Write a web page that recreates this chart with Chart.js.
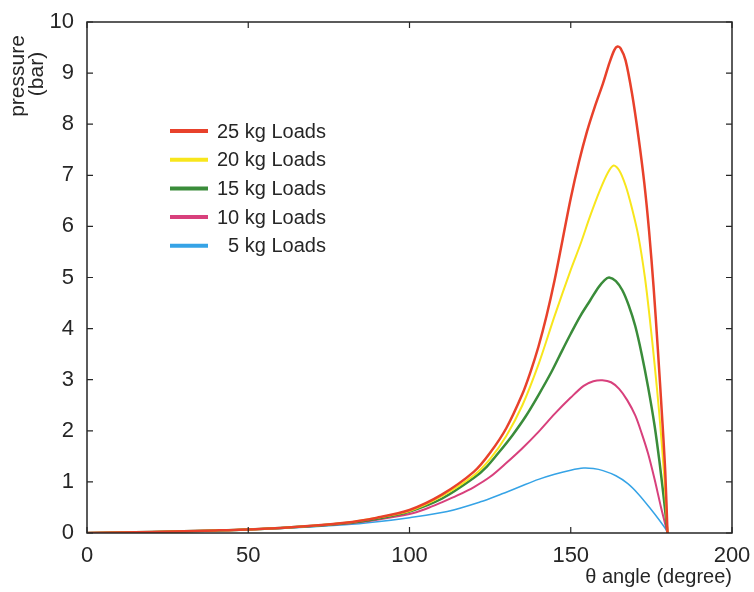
<!DOCTYPE html>
<html lang="en">
<head>
    <meta charset="UTF-8">
    <title>Pressure vs angle</title>
    <script src="https://cdn.jsdelivr.net/npm/chart.js"></script>
    <style>
        body {
            margin: 0;
            background-color: #ffffff;
        }
        #chart {
            display: block;
        }
    </style>
</head>
<body>
    <canvas id="chart" width="754" height="592"></canvas>

    <script>
        // angle (degree) and pressure (bar) for each load
        const angle25 = [0, 20, 40, 60, 80, 90, 100, 110, 120, 125, 130, 135, 137.5, 140, 142.5, 145, 147.5, 150, 152.5, 155, 157.5, 160, 162, 163.5, 164.5, 165.5, 167, 169, 171, 172.8, 174.3, 175.7, 177, 178.3, 179.3, 180];
        const p25 = [0, 0.02, 0.05, 0.1, 0.2, 0.3, 0.45, 0.75, 1.2, 1.57, 2.05, 2.72, 3.15, 3.65, 4.25, 4.95, 5.75, 6.55, 7.25, 7.85, 8.35, 8.8, 9.2, 9.45, 9.52, 9.48, 9.25, 8.6, 7.75, 6.85, 5.9, 4.8, 3.6, 2.3, 1.2, 0];

        const angle20 = [0, 20, 40, 60, 80, 90, 100, 110, 120, 125, 130, 135, 140, 145, 150, 153, 156, 159, 161.5, 163.3, 165, 167, 169, 171, 173, 174.5, 176, 177.5, 179, 180];
        const p20 = [0, 0.02, 0.05, 0.1, 0.2, 0.3, 0.43, 0.72, 1.13, 1.45, 1.9, 2.5, 3.3, 4.25, 5.15, 5.65, 6.2, 6.7, 7.05, 7.19, 7.1, 6.8, 6.35, 5.8, 5.0, 4.2, 3.3, 2.3, 1.1, 0];

        const angle15 = [0, 20, 40, 60, 80, 90, 100, 110, 120, 124, 128, 132, 136, 140, 144, 147.4, 150, 153, 156, 158.5, 160.5, 161.9, 164, 166, 168, 170, 172, 174, 176, 177.5, 179, 180];
        const p15 = [0, 0.02, 0.05, 0.1, 0.19, 0.28, 0.42, 0.67, 1.08, 1.3, 1.6, 1.92, 2.28, 2.7, 3.15, 3.58, 3.9, 4.25, 4.55, 4.8, 4.95, 5.0, 4.93, 4.75, 4.45, 4.05, 3.5, 2.85, 2.1, 1.4, 0.6, 0];

        const angle10 = [0, 20, 40, 60, 80, 90, 100, 105, 110, 115, 120, 125, 130, 135, 140, 145, 150, 154, 157, 159.8, 162.5, 165, 167.5, 170, 172, 174, 176, 178, 180];
        const p10 = [0, 0.02, 0.05, 0.1, 0.18, 0.26, 0.37, 0.47, 0.6, 0.74, 0.9, 1.1, 1.37, 1.66, 1.98, 2.33, 2.65, 2.88, 2.97, 2.99, 2.95, 2.82, 2.6, 2.3, 1.95, 1.55, 1.05, 0.5, 0];

        const angle5 = [0, 20, 40, 60, 80, 90, 100, 111.7, 122, 128, 134, 140, 145, 150, 154, 157, 160, 164, 167.6, 171, 174.8, 177.5, 179.5, 180];
        const p5 = [0, 0.02, 0.05, 0.09, 0.16, 0.22, 0.3, 0.42, 0.61, 0.75, 0.9, 1.05, 1.15, 1.23, 1.27, 1.26, 1.22, 1.12, 0.97, 0.76, 0.47, 0.25, 0.07, 0];

        const seriesLabels = ['25 kg Loads', '20 kg Loads', '15 kg Loads', '10 kg Loads', '  5 kg Loads'];
        const seriesColors = ['#e8412b', '#f8e61c', '#3a8c3a', '#d8407c', '#35a3e6'];
        const seriesWidths = [2.5, 2, 2.5, 2, 1.5];

        const xTitle = 'θ angle (degree)';
        const yTitle = ['pressure', '(bar)'];

        const toPoints = (xs, ys) => xs.map((v, i) => ({ x: v, y: ys[i] }));
        const allAngles = [angle25, angle20, angle15, angle10, angle5];
        const allPressures = [p25, p20, p15, p10, p5];

        const FONT = "'Liberation Sans', Arial, sans-serif";
        const INK = '#262626';

        // box around the plot with inward ticks, like the original
        const frame = {
            id: 'frame',
            afterDatasetsDraw(chart) {
                const { ctx, chartArea: a, scales: { x, y } } = chart;
                ctx.save();
                ctx.strokeStyle = INK;
                ctx.lineWidth = 1.5;
                ctx.strokeRect(a.left, a.top, a.right - a.left, a.bottom - a.top);
                ctx.lineWidth = 1.2;
                ctx.beginPath();
                x.ticks.forEach(t => {
                    const px = x.getPixelForValue(t.value);
                    ctx.moveTo(px, a.bottom); ctx.lineTo(px, a.bottom - 6);
                    ctx.moveTo(px, a.top); ctx.lineTo(px, a.top + 6);
                });
                y.ticks.forEach(t => {
                    const py = y.getPixelForValue(t.value);
                    ctx.moveTo(a.left, py); ctx.lineTo(a.left + 6, py);
                    ctx.moveTo(a.right, py); ctx.lineTo(a.right - 6, py);
                });
                ctx.stroke();
                ctx.restore();
            }
        };

        // legend sits inside the plot, upper left
        const insideLegend = {
            id: 'insideLegend',
            afterDraw(chart) {
                const ctx = chart.ctx;
                ctx.save();
                ctx.font = '20px ' + FONT;
                ctx.textBaseline = 'middle';
                ctx.fillStyle = INK;
                chart.data.datasets.forEach((ds, i) => {
                    const yy = 131 + i * 28.7;
                    ctx.strokeStyle = ds.borderColor;
                    ctx.lineWidth = 4;
                    ctx.beginPath();
                    ctx.moveTo(170, yy);
                    ctx.lineTo(208, yy);
                    ctx.stroke();
                    ctx.fillText(ds.label, 217, yy + 1);
                });
                ctx.restore();
            }
        };

        // y title is near the top of the axis, two lines
        const yAxisTitle = {
            id: 'yAxisTitle',
            afterDraw(chart) {
                const ctx = chart.ctx;
                ctx.save();
                ctx.font = '21px ' + FONT;
                ctx.fillStyle = INK;
                ctx.textAlign = 'center';
                ctx.textBaseline = 'middle';
                ctx.translate(18, 76);
                ctx.rotate(-Math.PI / 2);
                ctx.fillText(yTitle[0], 0, 0);
                ctx.fillText(yTitle[1], 2, 19);
                ctx.restore();
            }
        };

        new Chart(document.getElementById('chart'), {
            type: 'line',
            data: {
                datasets: seriesLabels.map((lab, i) => ({
                    label: lab,
                    data: toPoints(allAngles[i], allPressures[i]),
                    borderColor: seriesColors[i],
                    borderWidth: seriesWidths[i],
                    pointRadius: 0,
                    fill: false,
                    tension: 0.3
                }))
            },
            options: {
                responsive: false,
                animation: false,
                layout: { padding: { left: 0, top: 22, right: 22, bottom: 0 } },
                plugins: {
                    legend: { display: false },
                    tooltip: { enabled: false }
                },
                scales: {
                    x: {
                        type: 'linear',
                        min: 0,
                        max: 200,
                        grid: { display: false },
                        border: { display: false },
                        ticks: { stepSize: 50, padding: 2, color: INK, font: { family: FONT, size: 22 } },
                        title: { display: true, text: xTitle, align: 'end', color: INK, font: { family: FONT, size: 20 }, padding: { top: 0, bottom: 3 } },
                        afterFit: s => { s.height = 59; }
                    },
                    y: {
                        min: 0,
                        max: 10,
                        grid: { display: false },
                        border: { display: false },
                        ticks: { stepSize: 1, padding: 5, color: INK, font: { family: FONT, size: 22 } },
                        afterFit: s => { s.width = 87; }
                    }
                }
            },
            plugins: [frame, insideLegend, yAxisTitle]
        });
    </script>
</body>
</html>
